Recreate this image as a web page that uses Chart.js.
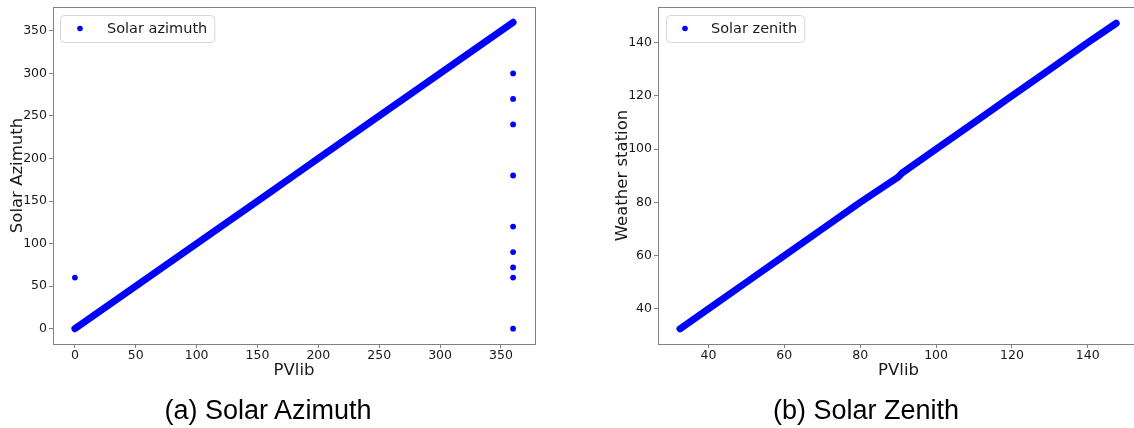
<!DOCTYPE html>
<html>
<head>
<meta charset="utf-8">
<script src="https://cdn.jsdelivr.net/npm/chart.js@4.4.1/dist/chart.umd.min.js"></script>
<style>
    html, body { margin: 0; padding: 0; background: #fff; overflow: hidden; }
    body { width: 1134px; height: 428px; position: relative; }
    canvas { position: absolute; top: 0; }
    #azimuth { left: 0; }
    #zenith { left: 600px; }
    .caption {
        position: absolute;
        top: 395px;
        width: 400px;
        text-align: center;
        font-family: "Liberation Sans", Arial, sans-serif;
        font-size: 27px;
        line-height: 30px;
        color: #000;
    }
</style>
</head>
<body>
<canvas id="azimuth" width="560" height="400"></canvas>
<canvas id="zenith" width="560" height="400"></canvas>
<div class="caption" style="left: 68px">(a) Solar Azimuth</div>
<div class="caption" style="left: 666px">(b) Solar Zenith</div>
<script>
// solar azimuth: pvlib vs weather station (degrees)
const azPvlib   = [0, 20, 40, 60, 80, 100, 120, 140, 160, 180, 200, 220, 240, 260, 280, 300, 320, 340, 360]
const azStation = [0, 20, 40, 60, 80, 100, 120, 140, 160, 180, 200, 220, 240, 260, 280, 300, 320, 340, 360]
// readings that don't sit on the diagonal
const azOddPvlib   = [0, 360, 360, 360, 360, 360, 360, 360, 360, 360]
const azOddStation = [60, 300, 270, 240, 180, 120, 90, 72, 60, 0]
const azTicks = [0, 50, 100, 150, 200, 250, 300, 350]

// solar zenith: pvlib vs weather station (degrees)
const zenPvlib   = [32.5, 40, 50, 60, 70, 80, 88, 90, 91, 100, 110, 120, 130, 140, 147.5]
const zenStation = [32.5, 40, 50, 60, 70, 80, 87.6, 89.5, 91, 100, 110, 120, 130, 140, 147.3]
const zenTicks = [40, 60, 80, 100, 120, 140]

const BLUE = '#0000ff'
const SPINE = '#808080'
const TEXT = '#1a1a1a'

Chart.defaults.font.family = '"DejaVu Sans", sans-serif'
Chart.defaults.color = TEXT

const toPoints = (xs, ys) => xs.map((x, i) => ({x: x, y: ys[i]}))

// box round the plot area, like matplotlib spines
const frame = {
    id: 'frame',
    afterDraw(chart) {
        const {ctx, chartArea: a} = chart
        ctx.save()
        ctx.strokeStyle = SPINE
        ctx.lineWidth = 1
        ctx.strokeRect(Math.round(a.left) + 0.5, Math.round(a.top) + 0.5,
            Math.round(a.right - a.left), Math.round(a.bottom - a.top))
        ctx.restore()
    }
}

// legend drawn inside the top-left corner of the plot
const insetLegend = {
    id: 'insetLegend',
    afterDraw(chart, args, opts) {
        const {ctx, chartArea: a} = chart
        ctx.save()
        ctx.font = opts.size + 'px "DejaVu Sans"'
        const x = a.left + opts.dx
        const y = a.top + 8
        const w = opts.textX + ctx.measureText(opts.text).width + 7
        const h = 27
        ctx.beginPath()
        ctx.roundRect(x + 0.5, y + 0.5, w, h, 4)
        ctx.fillStyle = 'rgba(255,255,255,0.85)'
        ctx.fill()
        ctx.strokeStyle = '#d6d6d6'
        ctx.lineWidth = 1
        ctx.stroke()
        ctx.beginPath()
        ctx.arc(x + opts.dotX, y + h / 2, 2.8, 0, Math.PI * 2)
        ctx.fillStyle = BLUE
        ctx.fill()
        ctx.fillStyle = TEXT
        ctx.textBaseline = 'middle'
        ctx.fillText(opts.text, x + opts.textX, y + h / 2 + 1)
        ctx.restore()
    }
}

function axis(min, max, ticks, title, size, titlePad, horizontal) {
    return {
        type: 'linear',
        min: min,
        max: max,
        afterBuildTicks: s => { s.ticks = ticks.map(v => ({value: v})) },
        afterFit: s => {
            // fixed axis size, and no extra room for end labels
            if (horizontal) {
                s.height = size
                s.paddingLeft = 0
                s.paddingRight = 0
            } else {
                s.width = size
                s.paddingTop = 0
                s.paddingBottom = 0
            }
        },
        grid: {
            drawOnChartArea: false,
            drawTicks: true,
            tickLength: 4,
            color: SPINE
        },
        border: { display: false },
        ticks: {
            font: { size: 12.5 },
            color: TEXT,
            padding: horizontal ? 0 : 2,
            maxRotation: 0
        },
        title: {
            display: true,
            text: title,
            color: TEXT,
            font: { size: 16.5 },
            padding: horizontal ? { bottom: titlePad } : { top: titlePad }
        }
    }
}

function makeChart(id, diag, odd, opts) {
    const datasets = [{
        data: diag,
        showLine: true,
        borderColor: BLUE,
        borderWidth: 7,
        borderCapStyle: 'round',
        borderJoinStyle: 'round',
        pointRadius: 0
    }]
    if (odd) {
        datasets.push({
            data: odd,
            pointRadius: 2.9,
            pointStyle: 'circle',
            backgroundColor: BLUE,
            borderWidth: 0
        })
    }
    return new Chart(document.getElementById(id), {
        type: 'scatter',
        data: { datasets: datasets },
        options: {
            responsive: false,
            animation: false,
            devicePixelRatio: 1,
            layout: { padding: { top: 7, right: opts.padRight, left: 0, bottom: 0 } },
            scales: {
                x: axis(opts.x[0], opts.x[1], opts.ticks, 'PVlib', 56, 19, true),
                y: axis(opts.y[0], opts.y[1], opts.ticks, opts.yTitle, opts.yWidth, opts.yTitlePad, false)
            },
            plugins: {
                legend: { display: false },
                tooltip: { enabled: false },
                insetLegend: opts.legend
            }
        },
        plugins: [frame, insetLegend]
    })
}

makeChart('azimuth',
    toPoints(azPvlib, azStation),
    toPoints(azOddPvlib, azOddStation),
    {
        x: [-18, 378], y: [-18, 378], ticks: azTicks,
        yTitle: 'Solar Azimuth', yWidth: 53, yTitlePad: 8, padRight: 25,
        legend: { text: 'Solar azimuth', size: 14.5, dx: 7, dotX: 20, textX: 47 }
    })

makeChart('zenith',
    toPoints(zenPvlib, zenStation),
    null,
    {
        x: [26.7, 153.5], y: [26.8, 153.4], ticks: zenTicks,
        yTitle: 'Weather station', yWidth: 58, yTitlePad: 13, padRight: 21,
        legend: { text: 'Solar zenith', size: 14.5, dx: 8, dotX: 19, textX: 45 }
    })
</script>
</body>
</html>
